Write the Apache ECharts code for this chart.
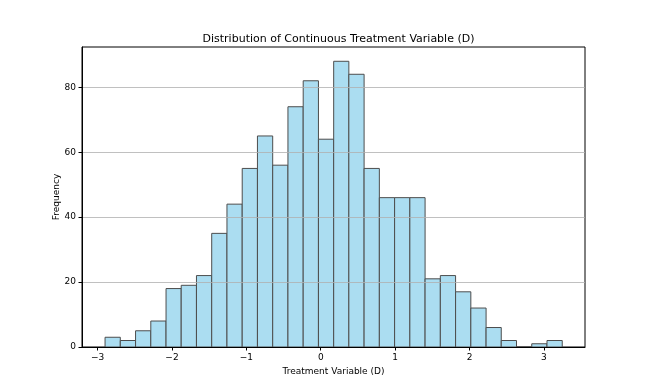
<!DOCTYPE html>
<html lang="en">
  <head>
    <meta charset="UTF-8" />
    <title>Distribution of Continuous Treatment Variable (D)</title>
    <script src="https://cdn.jsdelivr.net/npm/echarts@6/dist/echarts.min.js"></script>
    <style>
      html, body { margin: 0; padding: 0; background: #fff; }
      #chart { width: 652px; height: 391px; }
    </style>
  </head>
  <body>
    <div id="chart"></div>
    <script>
      // bin edges (30 bins) and counts
      const binEdges = [
        -2.9, -2.695, -2.49, -2.285, -2.08, -1.876, -1.671, -1.466, -1.261,
        -1.056, -0.851, -0.646, -0.441, -0.236, -0.031, 0.174, 0.378, 0.583,
        0.788, 0.993, 1.198, 1.403, 1.608, 1.813, 2.018, 2.223, 2.427, 2.632,
        2.837, 3.042, 3.247,
      ];
      const counts = [
        3, 2, 5, 8, 18, 19, 22, 35, 44, 55, 65, 56, 74, 82, 64, 88, 84, 55, 46,
        46, 46, 21, 22, 17, 12, 6, 2, 0, 1, 2,
      ];
      const xTicks = [-3, -2, -1, 0, 1, 2, 3];

      const FONT = "DejaVu Sans";
      const bins = counts.map((c, i) => [binEdges[i], binEdges[i + 1], c]);

      const chart = echarts.init(document.getElementById("chart"));
      chart.setOption({
        animation: false,
        title: {
          text: "Distribution of Continuous Treatment Variable (D)",
          left: 333.5,
          top: 29,
          textAlign: "center",
          textStyle: { fontFamily: FONT, fontSize: 11, fontWeight: "normal", color: "#000" },
        },
        grid: {
          left: 82,
          right: 67,
          top: 47,
          bottom: 44,
          show: true,
          borderColor: "#000",
          borderWidth: 1,
        },
        xAxis: {
          type: "value",
          min: -3.21,
          max: 3.553,
          z: 10,
          name: "Treatment Variable (D)",
          nameLocation: "middle",
          nameGap: 19,
          nameTextStyle: { fontFamily: FONT, fontSize: 9, color: "#000" },
          axisLine: { onZero: false, lineStyle: { color: "#000", width: 1 } },
          axisTick: { inside: false, length: 3.5, customValues: xTicks, lineStyle: { color: "#000" } },
          axisLabel: { customValues: xTicks, margin: 6, fontFamily: FONT, fontSize: 9, color: "#000",
            formatter: (v) => (v < 0 ? "\u2212" + Math.abs(v) : String(v)) },
          splitLine: { show: false },
        },
        yAxis: {
          type: "value",
          min: 0,
          max: 92.4,
          interval: 20,
          z: 10,
          name: "Frequency",
          nameLocation: "middle",
          nameGap: 21,
          nameMoveOverlap: false,
          nameTextStyle: { fontFamily: FONT, fontSize: 9, color: "#000" },
          axisLine: { show: true, onZero: false, lineStyle: { color: "#000", width: 1 } },
          axisTick: { show: true, length: 3.5, lineStyle: { color: "#000" } },
          axisLabel: { margin: 6, fontFamily: FONT, fontSize: 9, color: "#000", showMaxLabel: false },
          splitLine: { show: true, showMinLine: false, showMaxLine: false, lineStyle: { color: "#b0b0b0", width: 0.8 } },
        },
        series: [
          {
            type: "custom",
            z: 2,
            data: bins,
            encode: { x: [0, 1], y: 2 },
            renderItem: (params, api) => {
              const p0 = api.coord([api.value(0), api.value(2)]);
              const p1 = api.coord([api.value(1), 0]);
              return {
                type: "rect",
                shape: { x: p0[0], y: p0[1], width: p1[0] - p0[0], height: p1[1] - p0[1] },
                style: { fill: "#abddf1", stroke: "#4d4d4d", lineWidth: 1 },
              };
            },
          },
        ],
      });
    </script>
  </body>
</html>
